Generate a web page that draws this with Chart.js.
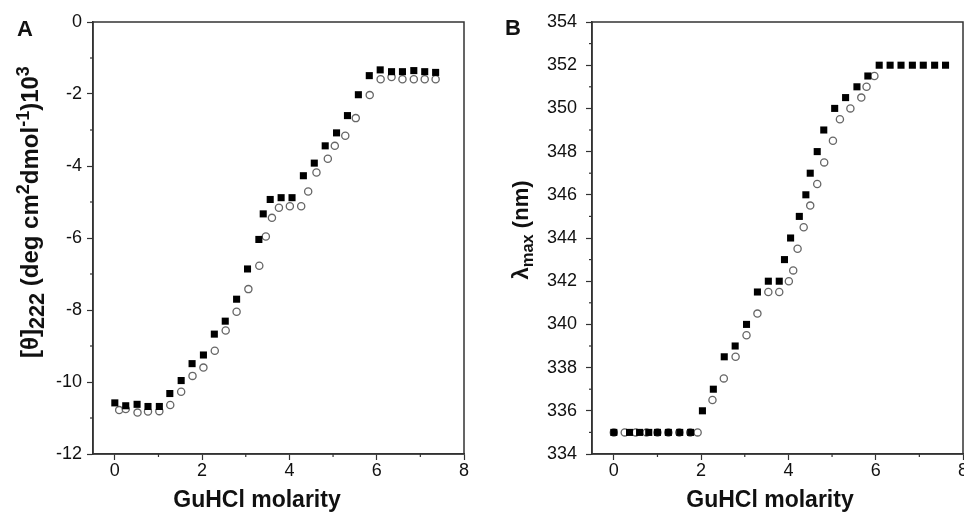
<!DOCTYPE html>
<html lang="en">
<head>
  <meta charset="UTF-8" />
  <title>GuHCl denaturation - CD and fluorescence</title>
  <script src="https://cdn.jsdelivr.net/npm/chart.js"></script>
  <style>
    body { margin: 0; background: #fff; overflow: hidden; font-family: "Liberation Sans", Arial, sans-serif; }
    .wrap { position: relative; width: 964px; height: 513px; overflow: hidden; }
    .panel { position: absolute; top: 0; height: 513px; }
    .letter { position: absolute; font-weight: bold; font-size: 22px; line-height: 1; color: #111; }
    .ytitle { position: absolute; font-weight: bold; font-size: 22px; line-height: 1; color: #111;
              white-space: nowrap; transform: translate(-50%, -50%) rotate(-90deg); }
    .ytitle sup, .ytitle sub { font-size: 75%; line-height: 0; }
    .xtitle { position: absolute; font-weight: bold; font-size: 23px; line-height: 1; color: #111;
              white-space: nowrap; transform: translateX(-50%); }
  </style>
</head>
<body>
<div class="wrap">
  <div class="panel" style="left:0; width:482px;"><canvas id="chartA" width="482" height="513"></canvas></div>
  <div class="panel" style="left:482px; width:490px;"><canvas id="chartB" width="490" height="513"></canvas></div>

  <!-- panel letters and axis titles -->
  <div class="letter" style="left:17px; top:18px;">A</div>
  <div class="letter" style="left:505px; top:17px;">B</div>
  <div class="ytitle" style="left:30px; top:212px; font-size:24px;">[θ]<sub style="font-size:90%">222</sub> (deg cm<sup>2</sup>dmol<sup>-1</sup>)10<sup>3</sup></div>
  <div class="ytitle" style="left:521px; top:230px;">λ<sub>max</sub> (nm)</div>
  <div class="xtitle" style="left:257px; top:488px;">GuHCl molarity</div>
  <div class="xtitle" style="left:770px; top:488px;">GuHCl molarity</div>
</div>

<script>
// ---- data ----
// Panel A: ellipticity at 222 nm
const xA_sq = [0, 0.25, 0.51, 0.76, 1.02, 1.26, 1.52, 1.77, 2.03, 2.28, 2.53, 2.79, 3.04, 3.30, 3.40, 3.56, 3.81, 4.06, 4.32, 4.57, 4.82, 5.08, 5.33, 5.58, 5.83, 6.08, 6.34, 6.59, 6.85, 7.10, 7.35];
const yA_sq = [-10.58, -10.66, -10.62, -10.68, -10.68, -10.32, -9.96, -9.49, -9.25, -8.67, -8.31, -7.70, -6.86, -6.04, -5.33, -4.93, -4.88, -4.88, -4.27, -3.92, -3.44, -3.08, -2.60, -2.02, -1.49, -1.33, -1.38, -1.38, -1.35, -1.38, -1.40];
const xA_ci = [0.10, 0.25, 0.52, 0.76, 1.02, 1.27, 1.52, 1.78, 2.03, 2.29, 2.54, 2.79, 3.06, 3.31, 3.46, 3.60, 3.76, 4.01, 4.27, 4.43, 4.62, 4.88, 5.04, 5.28, 5.52, 5.84, 6.09, 6.34, 6.59, 6.85, 7.10, 7.35];
const yA_ci = [-10.78, -10.75, -10.85, -10.82, -10.81, -10.64, -10.27, -9.83, -9.60, -9.13, -8.57, -8.05, -7.42, -6.77, -5.96, -5.44, -5.16, -5.12, -5.12, -4.71, -4.18, -3.80, -3.44, -3.16, -2.67, -2.03, -1.59, -1.53, -1.59, -1.59, -1.59, -1.59];

// Panel B: emission maximum
const xB_sq = [0, 0.36, 0.59, 0.80, 1.00, 1.25, 1.51, 1.76, 2.03, 2.28, 2.53, 2.78, 3.04, 3.29, 3.54, 3.79, 3.91, 4.05, 4.25, 4.40, 4.50, 4.66, 4.81, 5.06, 5.31, 5.57, 5.82, 6.08, 6.33, 6.58, 6.84, 7.09, 7.35, 7.60];
const yB_sq = [335, 335, 335, 335, 335, 335, 335, 335, 336, 337, 338.5, 339, 340, 341.5, 342, 342, 343, 344, 345, 346, 347, 348, 349, 350, 350.5, 351, 351.5, 352, 352, 352, 352, 352, 352, 352];
const xB_ci = [0, 0.25, 0.50, 0.75, 1.00, 1.25, 1.50, 1.75, 1.92, 2.26, 2.52, 2.79, 3.04, 3.29, 3.54, 3.79, 4.01, 4.11, 4.21, 4.35, 4.50, 4.66, 4.82, 5.02, 5.18, 5.42, 5.67, 5.79, 5.97];
const yB_ci = [335, 335, 335, 335, 335, 335, 335, 335, 335, 336.5, 337.5, 338.5, 339.5, 340.5, 341.5, 341.5, 342, 342.5, 343.5, 344.5, 345.5, 346.5, 347.5, 348.5, 349.5, 350, 350.5, 351, 351.5];

// ---- tick labels ----
const xTicks = [0, 2, 4, 6, 8];
const xMinor = [1, 3, 5, 7];
const yTicksA = [0, -2, -4, -6, -8, -10, -12];
const yMinorA = [-1, -3, -5, -7, -9, -11];
const yTicksB = [334, 336, 338, 340, 342, 344, 346, 348, 350, 352, 354];
const yMinorB = [335, 337, 339, 341, 343, 345, 347, 349, 351, 353];

const AXIS = '#333';
const FONT = { family: "'Liberation Sans', Arial, sans-serif", size: 18 };

function pts(xs, ys) {
  return xs.map((x, i) => ({ x: x, y: ys[i] }));
}

// short minor ticks + the box round the plot
const frameAndMinor = {
  id: 'frameAndMinor',
  afterDraw(chart, args, opts) {
    const ctx = chart.ctx;
    const sx = chart.scales.x, sy = chart.scales.y;
    const a = chart.chartArea;
    ctx.save();
    ctx.strokeStyle = AXIS;
    ctx.lineWidth = 1.2;
    opts.x.forEach(v => {
      const px = sx.getPixelForValue(v);
      ctx.beginPath(); ctx.moveTo(px, a.bottom); ctx.lineTo(px, a.bottom + 3); ctx.stroke();
    });
    opts.y.forEach(v => {
      const py = sy.getPixelForValue(v);
      ctx.beginPath(); ctx.moveTo(a.left, py); ctx.lineTo(a.left - 3, py); ctx.stroke();
    });
    ctx.lineWidth = 1.5;
    ctx.strokeRect(a.left, a.top, a.right - a.left, a.bottom - a.top);
    ctx.restore();
  }
};

function makeChart(id, sq, ci, yMin, yMax, yTicks, yMinor, yWidth, yPad, padRight) {
  return new Chart(document.getElementById(id), {
    type: 'scatter',
    data: {
      datasets: [
        {
          label: 'filled',
          data: sq,
          pointStyle: 'rect',
          pointRadius: 5,
          backgroundColor: '#000',
          borderColor: '#000',
          borderWidth: 0
        },
        {
          label: 'open',
          data: ci,
          pointStyle: 'circle',
          pointRadius: 3.6,
          backgroundColor: '#fff',
          borderColor: '#666',
          borderWidth: 1.3
        }
      ]
    },
    options: {
      responsive: false,
      animation: false,
      events: [],
      layout: { padding: { top: 22, right: padRight, left: 0, bottom: 0 } },
      plugins: {
        legend: { display: false },
        tooltip: { enabled: false },
        frameAndMinor: { x: xMinor, y: yMinor }
      },
      scales: {
        x: {
          type: 'linear',
          min: -0.5,
          max: 8,
          afterBuildTicks: s => { s.ticks = xTicks.map(v => ({ value: v })); },
          afterFit: s => { s.height = 59; },
          border: { color: AXIS, width: 1.5 },
          grid: { drawOnChartArea: false, drawTicks: true, tickLength: 6, tickColor: AXIS, tickWidth: 1.2 },
          ticks: { color: '#111', font: FONT, padding: 0, maxRotation: 0, callback: v => String(v) }
        },
        y: {
          type: 'linear',
          min: yMin,
          max: yMax,
          afterBuildTicks: s => { s.ticks = yTicks.map(v => ({ value: v })); },
          afterFit: s => { s.width = yWidth; },
          border: { color: AXIS, width: 1.5 },
          grid: { drawOnChartArea: false, drawTicks: true, tickLength: 6, tickColor: AXIS, tickWidth: 1.2 },
          ticks: { color: '#111', font: FONT, padding: yPad, callback: v => String(v) }
        }
      }
    },
    plugins: [frameAndMinor]
  });
}

makeChart('chartA', pts(xA_sq, yA_sq), pts(xA_ci, yA_ci), -12, 0, yTicksA, yMinorA, 93, 5, 18);
makeChart('chartB', pts(xB_sq, yB_sq), pts(xB_ci, yB_ci), 334, 354, yTicksB, yMinorB, 110, 9, 9);
</script>
</body>
</html>
